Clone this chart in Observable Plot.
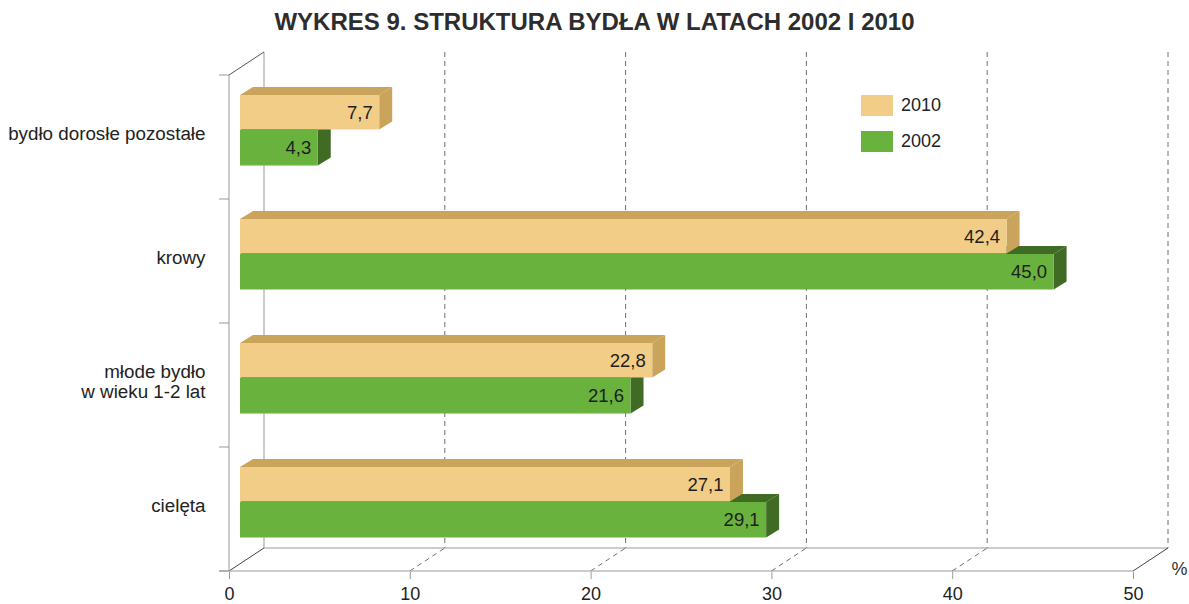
<!DOCTYPE html>
<html>
<head>
<meta charset="utf-8">
<script src="https://cdn.jsdelivr.net/npm/d3@7"></script>
<script src="https://cdn.jsdelivr.net/npm/@observablehq/plot@0.6"></script>
<style>
  html, body { margin: 0; padding: 0; background: #fff; }
  #wrap { position: relative; width: 1189px; height: 604px; font-family: "Liberation Sans", Arial, sans-serif; }
  #title { height: 44px; line-height: 44px; text-align: center; font-weight: bold; font-size: 24px; color: #2d2d2d; }
  .leg { position: absolute; display: flex; align-items: center; font-size: 18px; color: #222; }
  .sw { width: 32px; height: 21px; margin-right: 8px; }
</style>
</head>
<body>
<div id="wrap">
  <div id="title">WYKRES 9. STRUKTURA BYDŁA W LATACH 2002 I 2010</div>
  <div id="chart"></div>
  <div id="legend"></div>
</div>
<script>
const categories = ["bydło dorosłe pozostałe", "krowy", "młode bydło\nw wieku 1-2 lat", "cielęta"];
const values2010 = [7.7, 42.4, 22.8, 27.1];
const values2002 = [4.3, 45.0, 21.6, 29.1];
const years = ["2010", "2002"];
const xTicks = [0, 10, 20, 30, 40, 50];

const colors = {
  "2010": {front: "#f2cd87", shade: "#c9a45a"},
  "2002": {front: "#69b23d", shade: "#3f6b25"}
};

const rows2010 = categories.map((c, i) => ({category: c, value: values2010[i], year: "2010"}));
const rows2002 = categories.map((c, i) => ({category: c, value: values2002[i], year: "2002"}));

const BAR_DX = 11;
const DEPTH_X = 13, DEPTH_Y = 8;
const WALL_DX = 35, WALL_DY = 23;
const inset = {"2010": [20, 69.5], "2002": [55, 33.5]};

function wallMark(index, scales) {
  const {x, y} = scales;
  const g = d3.create("svg:g").attr("fill", "none");
  const bw = y.bandwidth();
  const top = y(categories[0]);
  const bottom = y(categories[categories.length - 1]) + bw;
  const x0 = x(0), x50 = x(50);
  for (const t of xTicks.slice(1)) {
    g.append("line").attr("x1", x(t) + WALL_DX).attr("x2", x(t) + WALL_DX)
      .attr("y1", top - WALL_DY).attr("y2", bottom - WALL_DY)
      .attr("stroke", "#707070").attr("stroke-dasharray", "5,4");
  }
  g.append("line").attr("x1", x0 + WALL_DX).attr("x2", x0 + WALL_DX)
    .attr("y1", top - WALL_DY).attr("y2", bottom - WALL_DY).attr("stroke", "#999");
  g.append("line").attr("x1", x0 + WALL_DX).attr("x2", x50 + WALL_DX)
    .attr("y1", bottom - WALL_DY).attr("y2", bottom - WALL_DY).attr("stroke", "#999");
  for (const t of xTicks) {
    const solid = t === xTicks[0] || t === xTicks[xTicks.length - 1];
    g.append("line").attr("x1", x(t)).attr("y1", bottom)
      .attr("x2", x(t) + WALL_DX).attr("y2", bottom - WALL_DY)
      .attr("stroke", solid ? "#444" : "#707070")
      .attr("stroke-dasharray", solid ? null : "5,4");
  }
  g.append("line").attr("x1", x0 - 10).attr("x2", x50)
    .attr("y1", bottom).attr("y2", bottom).attr("stroke", "#999");
  g.append("line").attr("x1", x0).attr("x2", x0).attr("y1", top).attr("y2", bottom).attr("stroke", "#999");
  g.append("line").attr("x1", x0).attr("y1", top).attr("x2", x0 + WALL_DX).attr("y2", top - WALL_DY).attr("stroke", "#555");
  const bounds = categories.map(c => y(c)).concat([bottom]);
  for (const b of bounds) {
    g.append("line").attr("x1", x0 - 10).attr("x2", x0).attr("y1", b).attr("y2", b).attr("stroke", "#999");
  }
  return g.node();
}

function facesMark(rows, year) {
  return (index, scales) => {
    const {x, y} = scales;
    const g = d3.create("svg:g");
    const bw = y.bandwidth();
    const [it, ib] = inset[year];
    for (const d of rows) {
      const X0 = x(0) + BAR_DX, X1 = x(d.value) + BAR_DX;
      const Y0 = y(d.category) + it, Y1 = y(d.category) + bw - ib;
      const topPts = [[X0, Y0], [X1, Y0], [X1 + DEPTH_X, Y0 - DEPTH_Y], [X0 + DEPTH_X, Y0 - DEPTH_Y]];
      const sidePts = [[X1, Y0], [X1 + DEPTH_X, Y0 - DEPTH_Y], [X1 + DEPTH_X, Y1 - DEPTH_Y], [X1, Y1]];
      for (const pts of [topPts, sidePts]) {
        g.append("path").attr("d", "M" + pts.map(p => p.join(",")).join("L") + "Z")
          .attr("fill", colors[year].shade);
      }
    }
    return g.node();
  };
}

function barMarks(rows, year) {
  const [it, ib] = inset[year];
  return [
    facesMark(rows, year),
    Plot.barX(rows, {x: "value", y: "category", fill: colors[year].front, insetTop: it, insetBottom: ib, dx: BAR_DX}),
    Plot.text(rows, {
      x: "value", y: "category",
      text: d => d.value.toFixed(1).replace(".", ","),
      textAnchor: "end", dx: BAR_DX - 7,
      dy: (it + (124.5 - it - ib) / 2) - 124.5 / 2,
      fill: "#1e1e1e", fontSize: 18.5
    })
  ];
}

const chart = Plot.plot({
  width: 1189,
  height: 560,
  marginTop: 30,
  marginBottom: 32,
  marginLeft: 229,
  marginRight: 56,
  style: {fontFamily: "'Liberation Sans', Arial, sans-serif", fontSize: "18px", color: "#222", background: "#fff"},
  x: {domain: [0, 50], axis: null},
  y: {domain: categories, padding: 0, axis: null},
  marks: [
    wallMark,
    ...barMarks(rows2002, "2002"),
    ...barMarks(rows2010, "2010"),
    Plot.axisX({ticks: xTicks, tickSize: 7, tickPadding: 8, fontSize: 18, stroke: "#999", fill: "#222", tickFormat: d => String(d), label: null}),
    Plot.axisY({tickSize: 0, tickPadding: 24, fontSize: 18.8, dy: -4, lineHeight: 1.1, fill: "#222", label: null}),
    Plot.text(["%"], {frameAnchor: "bottom-right", text: d => d, dx: 46, dy: 2, fontSize: 18, fill: "#333", textAnchor: "middle"})
  ]
});
document.getElementById("chart").appendChild(chart);

const legend = document.getElementById("legend");
const legendTops = {"2010": 95, "2002": 131};
for (const yr of years) {
  const el = document.createElement("div");
  el.className = "leg";
  el.style.left = "861px";
  el.style.top = legendTops[yr] + "px";
  el.innerHTML = `<div class="sw" style="background:${colors[yr].front}"></div><span>${yr}</span>`;
  legend.appendChild(el);
}
</script>
</body>
</html>
